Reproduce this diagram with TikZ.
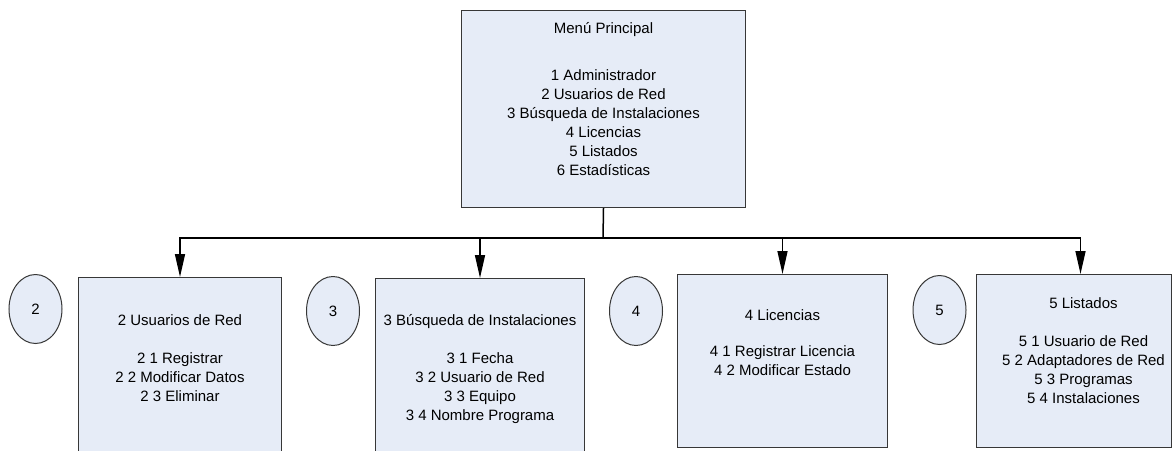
\documentclass[tikz,border=0pt]{standalone}
\usepackage{fontspec}
\setmainfont{Liberation Sans}
\usetikzlibrary{arrows.meta,positioning,shapes.geometric}
\definecolor{cajafondo}{RGB}{230,236,247}
\definecolor{borde}{RGB}{55,55,55}

\begin{document}
\begin{tikzpicture}[x=1pt,y=-1pt,
  caja/.style={draw=borde,fill=cajafondo,line width=1pt,inner sep=0pt,anchor=north west},
  texto/.style={align=center,inner sep=0pt,font=\fontsize{15}{19}\selectfont},
  numero/.style={ellipse,draw=borde,fill=cajafondo,line width=1pt,minimum width=53pt,minimum height=69pt,inner sep=0pt,font=\fontsize{15}{19}\selectfont},
  linea/.style={line width=1.5pt},
  flecha/.style={linea,-{Triangle[length=23pt,width=10pt]}}]
\useasboundingbox (0,0) rectangle (1172,450);
\clip (0,0) rectangle (1172,450);
% Main menu
\node[caja,minimum width=284pt,minimum height=197pt] (menu) at (461,10) {};
\node[texto,below=12.5pt of menu.north] (menuT) {Menú Principal\\[28pt]
  1 Administrador\\2 Usuarios de Red\\3 Búsqueda de Instalaciones\\
  4 Licencias\\5 Listados\\6 Estadísticas};
% Sub menus
\node[caja,minimum width=203pt,minimum height=200pt] (usuarios) at (78,277) {};
\node[texto,below=37.5pt of usuarios.north] (usuariosT) {2 Usuarios de Red\\[19pt]
  2 1 Registrar\\2 2 Modificar Datos\\2 3 Eliminar};
\node[caja,minimum width=209pt,minimum height=200pt] (busqueda) at (375,278) {};
\node[texto,below=36.5pt of busqueda.north] (busquedaT) {3 Búsqueda de Instalaciones\\[19pt]
  3 1 Fecha\\3 2 Usuario de Red\\3 3 Equipo\\3 4 Nombre Programa};
\node[caja,minimum width=210pt,minimum height=173pt] (licencias) at (677,274) {};
\node[texto,below=35.5pt of licencias.north] (licenciasT) {4 Licencias\\[17pt]
  4 1 Registrar Licencia\\4 2 Modificar Estado};
\node[caja,minimum width=195pt,minimum height=173pt] (listados) at (976,274) {};
\node[texto,below=23.5pt of listados.north,xshift=9.5pt] (listadosT) {5 Listados\\[19pt]
  5 1 Usuario de Red\\5 2 Adaptadores de Red\\5 3 Programas\\5 4 Instalaciones};
% Numbers
\node[numero] (num2) at (35.5,309) {2};
\node[numero] (num3) at (333,311) {3};
\node[numero] (num4) at (636,311) {4};
\node[numero] (num5) at (939.5,310) {5};
% Connectors
\coordinate (bus) at (603,238);
\draw[linea] (menu.south) -- (bus);
\draw[flecha] (bus) -| (usuarios.north);
\draw[flecha] (bus) -| (busqueda.north);
\draw[flecha] (bus) -| (licencias.north);
\draw[flecha] (bus) -| ([xshift=6.5pt]listados.north);
\end{tikzpicture}
\end{document}
